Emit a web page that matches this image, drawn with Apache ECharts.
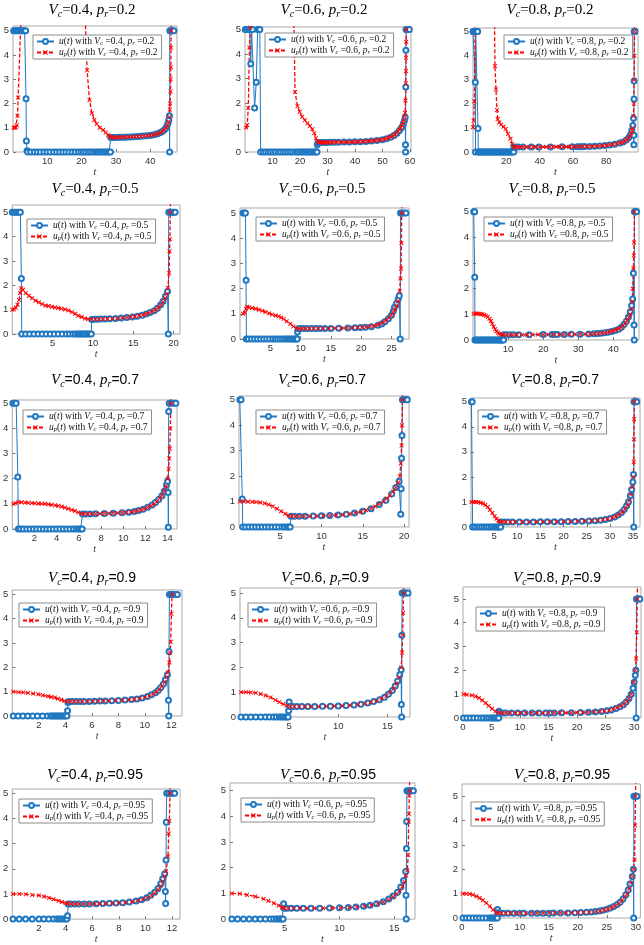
<!DOCTYPE html>
<html>
<head>
<meta charset="utf-8">
<script src="https://cdn.jsdelivr.net/npm/echarts@6.0.0/dist/echarts.min.js"></script>
</head>
<body style="margin:0;background:#fff">
<div id="container" style="width:644px;height:945px"></div>
<script>
// ---- data: [t, value] ----
// Vc=0.4, pr=0.2
var u_04_02 = [[0.2,5],[0.6,5],[1.0,5],[1.4,5],[1.8,5],[2.2,5],[2.6,5],[3.0,5],[3.4,5],[3.7,5],[3.8,2.2],[3.9,0.45],[4.1,0.05],[4.3,0],[5.2,0],[6.2,0],[7.1,0],[8.0,0],[9.0,0],[9.9,0],[10.8,0],[11.8,0],[12.7,0],[13.6,0],[14.5,0],[15.4,0],[16.3,0],[17.2,0],[18.1,0],[19.0,0],[19.8,0],[20.5,0],[21.2,0],[21.9,0],[22.6,0],[23.3,0],[24.0,0],[24.6,0],[25.2,0],[25.8,0],[26.4,0],[27.0,0],[27.5,0],[28.0,0],[28.4,0],[28.5,0.6],[29.0,0.6],[29.6,0.6],[30.3,0.6],[31.0,0.61],[31.8,0.61],[32.6,0.61],[33.5,0.62],[34.4,0.62],[35.3,0.63],[36.2,0.64],[37.1,0.65],[38.0,0.66],[38.9,0.67],[39.8,0.68],[40.6,0.7],[41.4,0.72],[42.1,0.75],[42.8,0.79],[43.4,0.84],[44.0,0.9],[44.5,0.98],[44.9,1.08],[45.2,1.2],[45.4,1.32],[45.6,1.5],[45.65,0],[45.7,5],[46.0,5],[46.3,5],[46.6,5],[46.9,5]];
var up_04_02 = [[0.2,1.0],[0.5,1.0],[0.8,1.02],[1.1,1.1],[1.3,1.5],[1.5,2.25],[2.3,5.4],[2.5,8],[20.4,8],[21.6,3.37],[22.3,2.14],[23.0,1.6],[23.7,1.32],[24.4,1.16],[25.3,1.0],[26.3,0.91],[27.0,0.8],[27.7,0.7],[28.2,0.64],[28.6,0.61],[29.2,0.6],[29.8,0.6],[30.5,0.6],[31.2,0.61],[32.0,0.61],[32.8,0.62],[33.7,0.62],[34.6,0.63],[35.5,0.63],[36.4,0.64],[37.3,0.65],[38.2,0.66],[39.1,0.67],[40.0,0.69],[40.8,0.7],[41.6,0.73],[42.3,0.76],[43.0,0.8],[43.6,0.86],[44.1,0.92],[44.6,1.0],[45.0,1.1],[45.3,1.25],[45.5,1.45],[45.7,1.75],[45.8,2.0],[45.9,2.5],[45.95,3.0],[46.0,3.5],[46.05,4.3],[46.1,5.0],[46.15,8]];
// Vc=0.6, pr=0.2
var u_06_02 = [[0.1,5],[0.5,5],[0.9,5],[1.3,5],[1.7,5],[2.1,3.6],[2.4,5],[2.7,5],[3.5,1.8],[4.1,2.85],[4.6,5],[5.0,5],[5.4,5],[5.7,0],[6.6,0],[7.5,0],[8.4,0],[9.3,0],[10.2,0],[11.1,0],[12.0,0],[12.9,0],[13.8,0],[14.7,0],[15.6,0],[16.5,0],[17.4,0],[18.3,0],[19.1,0],[19.9,0],[20.6,0],[21.3,0],[22.0,0],[22.7,0],[23.4,0],[24.0,0],[24.6,0],[25.2,0],[25.7,0],[26.2,0],[26.3,0.3],[26.6,0.38],[27.2,0.39],[28,0.39],[29,0.39],[30,0.39],[31.2,0.4],[32.5,0.4],[34,0.4],[36,0.41],[38,0.41],[40,0.42],[42,0.42],[44,0.43],[46,0.45],[48,0.47],[50,0.5],[51.5,0.54],[53,0.6],[54.2,0.67],[55.3,0.76],[56.2,0.88],[57,1.0],[57.6,1.15],[58.0,1.28],[58.3,1.42],[58.4,0.3],[58.45,0],[58.5,2.65],[58.55,4.15],[58.6,5],[58.9,5],[59.2,5],[59.5,5],[59.8,5]];
var up_06_02 = [[0.4,1.0],[0.8,1.1],[1.2,1.8],[1.6,4.26],[1.9,5.07],[2.1,8],[17.4,8],[18.2,2.45],[19.1,1.87],[19.9,1.64],[20.8,1.44],[21.8,1.3],[22.7,1.17],[23.6,1.06],[24.5,0.93],[25.2,0.77],[25.8,0.56],[26.4,0.43],[26.9,0.4],[27.4,0.39],[27.9,0.39],[28.4,0.39],[29,0.39],[29.6,0.39],[30.3,0.39],[31,0.39],[31.8,0.4],[32.6,0.4],[33.5,0.4],[34.5,0.4],[35.5,0.4],[36.5,0.41],[37.5,0.41],[38.5,0.41],[39.5,0.42],[40.5,0.42],[41.5,0.42],[42.5,0.43],[43.5,0.43],[44.5,0.44],[45.5,0.45],[46.5,0.46],[47.5,0.47],[48.5,0.48],[49.5,0.5],[50.5,0.52],[51.5,0.55],[52.3,0.58],[53.1,0.62],[53.8,0.66],[54.5,0.71],[55.1,0.77],[55.7,0.84],[56.2,0.92],[56.7,1.0],[57.1,1.08],[57.5,1.18],[57.8,1.3],[58.05,1.45],[58.25,1.6],[58.4,2.1],[58.5,2.8],[58.55,3.3],[58.6,3.85],[58.65,4.5],[58.7,5.0],[58.8,8]];
// Vc=0.8, pr=0.2
var u_08_02 = [[0,5],[0.3,5],[0.6,5],[0.9,5],[1.2,5],[1.4,2.9],[1.5,0],[1.6,5],[1.9,5],[2.2,5],[2.5,5],[2.8,5],[3.0,0.98],[3.2,0],[3.7,0],[4.3,0],[5,0],[5.7,0],[6.4,0],[7.1,0],[7.8,0],[8.5,0],[9.2,0],[9.9,0],[10.6,0],[11.3,0],[12,0],[12.7,0],[13.4,0],[14.1,0],[14.8,0],[15.5,0],[16.2,0],[16.9,0],[17.6,0],[18.3,0],[19,0],[19.7,0],[20.4,0],[21.1,0],[21.8,0],[22.5,0],[23.2,0],[23.9,0],[24.4,0],[24.5,0.2],[25.5,0.21],[27,0.21],[30,0.21],[35,0.21],[39.5,0.21],[46.5,0.21],[53.5,0.22],[59.5,0.22],[62.5,0.22],[64,0.22],[65.5,0.22],[67,0.23],[70,0.23],[73,0.24],[76,0.25],[79,0.27],[82,0.29],[85,0.32],[88,0.37],[90,0.42],[92,0.5],[93.5,0.6],[94.5,0.72],[95.3,0.9],[95.9,1.1],[96.3,1.4],[96.5,0.3],[96.55,0.7],[96.6,2.2],[96.65,2.95],[96.7,5],[96.9,5],[97.1,5]];
var up_08_02 = [[0,1.03],[0.4,1.3],[0.8,2.1],[1.3,5.3],[1.5,8],[12.5,8],[13.2,3.56],[13.8,2.6],[14.4,1.74],[14.8,1.37],[15.8,1.23],[16.9,1.14],[18.3,1.05],[19.6,0.96],[21.0,0.75],[22.5,0.55],[23.5,0.34],[24.5,0.2],[25.5,0.21],[27,0.21],[28.5,0.21],[30,0.21],[32,0.21],[34,0.21],[36,0.21],[38,0.21],[40,0.21],[42,0.21],[44,0.21],[46,0.21],[48,0.22],[50,0.22],[52,0.22],[54,0.22],[56,0.22],[58,0.22],[60,0.22],[62,0.22],[64,0.23],[66,0.23],[68,0.23],[70,0.23],[72,0.24],[74,0.24],[76,0.25],[78,0.26],[80,0.28],[82,0.29],[84,0.31],[86,0.34],[88,0.37],[89.5,0.4],[91,0.45],[92.3,0.51],[93.3,0.58],[94.2,0.67],[94.9,0.78],[95.4,0.9],[95.8,1.0],[96.2,1.5],[96.5,2.0],[96.7,3.0],[96.8,4.0],[96.9,5],[97,8]];
// Vc=0.4, pr=0.5
var u_04_05 = [[0,5],[0.25,5],[0.5,5],[0.75,5],[1.0,5],[1.13,2.28],[1.17,0],[1.66,0],[2.15,0],[2.68,0],[3.2,0],[3.7,0],[4.2,0],[4.7,0],[5.2,0],[5.7,0],[6.2,0],[6.7,0],[7.1,0],[7.5,0],[7.8,0],[8.1,0],[8.3,0],[8.5,0],[8.7,0],[8.9,0],[9.1,0],[9.35,0],[9.56,0],[9.8,0],[9.85,0.6],[10.2,0.61],[10.6,0.61],[11.0,0.62],[11.5,0.62],[12.1,0.63],[12.8,0.64],[13.5,0.66],[14.2,0.68],[14.9,0.7],[15.5,0.73],[16.1,0.77],[16.6,0.82],[17.1,0.88],[17.6,0.96],[18.0,1.06],[18.4,1.2],[18.7,1.35],[19.0,1.55],[19.25,1.75],[19.35,0],[19.4,5],[19.6,5],[19.8,5],[20.0,5],[20.2,5]];
var up_04_05 = [[0,1.0],[0.2,1.02],[0.45,1.09],[0.65,1.2],[0.85,1.4],[0.97,1.68],[1.1,1.88],[1.33,1.82],[1.66,1.68],[2.06,1.57],[2.47,1.47],[2.88,1.37],[3.3,1.3],[3.7,1.23],[4.1,1.17],[4.5,1.15],[4.9,1.12],[5.3,1.09],[5.7,1.07],[6.1,1.04],[6.55,1.01],[6.96,0.97],[7.4,0.9],[7.8,0.83],[8.2,0.75],[8.6,0.7],[9.0,0.64],[9.4,0.61],[9.8,0.61],[10.3,0.61],[10.8,0.61],[11.3,0.62],[11.8,0.62],[12.4,0.63],[13.0,0.64],[13.6,0.66],[14.2,0.68],[14.7,0.7],[15.2,0.72],[15.7,0.75],[16.2,0.78],[16.6,0.82],[17.0,0.87],[17.4,0.93],[17.8,1.0],[18.1,1.08],[18.4,1.18],[18.7,1.32],[18.95,1.48],[19.15,1.65],[19.3,1.9],[19.45,2.5],[19.5,3.4],[19.55,3.9],[19.6,5.0],[19.65,8]];
// Vc=0.6, pr=0.5
var u_06_05 = [[0.5,5],[0.7,5],[0.9,5],[1.0,2.33],[1.05,0],[1.4,0],[1.9,0],[2.4,0],[2.9,0],[3.4,0],[3.9,0],[4.4,0],[4.9,0],[5.4,0],[5.8,0],[6.2,0],[6.6,0],[7.0,0],[7.4,0],[7.7,0],[8.0,0],[8.3,0],[8.6,0],[8.9,0],[9.1,0],[9.3,0],[9.45,0],[9.5,0.28],[9.6,0.41],[10.0,0.42],[10.5,0.42],[11.1,0.42],[11.8,0.42],[12.5,0.42],[13.2,0.42],[14.0,0.42],[15.0,0.42],[16.3,0.43],[17.8,0.44],[19.0,0.45],[19.9,0.46],[20.7,0.47],[21.7,0.49],[22.8,0.55],[23.4,0.6],[23.9,0.68],[24.5,0.8],[25.0,0.94],[25.3,1.1],[25.5,1.26],[25.8,1.4],[26.1,1.58],[26.3,1.72],[26.45,0],[26.5,5],[26.8,5],[27.1,5],[27.4,5]];
var up_06_05 = [[0.5,1.0],[0.8,1.04],[1.0,1.2],[1.2,1.28],[1.5,1.25],[2.0,1.23],[2.6,1.2],[3.1,1.16],[3.7,1.12],[4.2,1.07],[4.8,1.02],[5.3,0.97],[5.9,0.93],[6.4,0.9],[6.8,0.85],[7.2,0.8],[7.7,0.7],[8.3,0.61],[8.8,0.5],[9.4,0.42],[9.8,0.4],[10.3,0.41],[10.9,0.41],[11.5,0.41],[12.2,0.42],[13,0.42],[13.8,0.42],[14.7,0.42],[15.7,0.43],[16.7,0.43],[17.7,0.44],[18.6,0.45],[19.4,0.46],[20.1,0.47],[20.8,0.48],[21.5,0.5],[22.1,0.53],[22.7,0.56],[23.2,0.61],[23.7,0.67],[24.2,0.75],[24.6,0.84],[25.0,0.94],[25.3,1.05],[25.6,1.18],[25.9,1.32],[26.1,1.5],[26.35,1.9],[26.5,2.4],[26.6,2.8],[26.65,3.8],[26.7,5.0],[26.8,8]];
// Vc=0.8, pr=0.5
var u_08_05 = [[0.2,5],[0.35,5],[0.45,5],[0.5,2.45],[0.55,0],[0.9,0],[1.3,0],[1.7,0],[2.1,0],[2.5,0],[2.9,0],[3.3,0],[3.7,0],[4.1,0],[4.5,0],[4.9,0],[5.3,0],[5.7,0],[6.1,0],[6.5,0],[6.9,0],[7.3,0],[7.6,0],[7.9,0],[8.2,0],[8.5,0],[8.7,0],[8.8,0.2],[9.5,0.2],[10.5,0.2],[11.5,0.2],[13,0.2],[16,0.2],[20,0.21],[22.5,0.21],[23.2,0.21],[24,0.21],[26,0.21],[28,0.22],[30.5,0.22],[33,0.23],[34.5,0.24],[35.5,0.25],[36.5,0.26],[37.5,0.28],[38.5,0.3],[39.5,0.33],[40.5,0.37],[41.5,0.42],[42.3,0.5],[43.0,0.6],[43.7,0.73],[44.3,0.9],[44.8,1.1],[45.2,1.35],[45.5,1.6],[45.7,2.6],[45.9,0.59],[45.95,0],[46.0,5],[46.2,5],[46.4,5],[46.6,5]];
var up_08_05 = [[0.2,1.02],[0.7,1.03],[1.2,1.03],[1.7,1.02],[2.2,1.01],[2.7,1.0],[3.2,0.98],[3.7,0.95],[4.2,0.9],[4.7,0.83],[5.1,0.74],[5.5,0.63],[5.9,0.52],[6.3,0.42],[6.7,0.34],[7.1,0.28],[7.5,0.24],[8.0,0.21],[8.5,0.2],[9.5,0.2],[10.5,0.2],[11.5,0.2],[12.5,0.2],[14,0.2],[15.5,0.2],[17,0.21],[18.5,0.21],[20,0.21],[21.5,0.21],[23,0.21],[24.5,0.21],[26,0.21],[27.5,0.22],[29,0.22],[30.5,0.22],[32,0.23],[33.3,0.23],[34.5,0.24],[35.6,0.25],[36.6,0.26],[37.5,0.28],[38.4,0.3],[39.2,0.33],[40,0.36],[40.8,0.4],[41.5,0.44],[42.2,0.5],[42.8,0.57],[43.4,0.66],[43.9,0.76],[44.4,0.88],[44.8,1.0],[45.1,1.2],[45.35,1.5],[45.55,2.0],[45.7,2.8],[45.8,3.3],[45.9,3.8],[46.0,5.0],[46.05,8]];
// Vc=0.4, pr=0.7
var u_04_07 = [[0.05,5],[0.2,5],[0.35,5],[0.5,2.07],[0.55,0],[0.75,0],[1.0,0],[1.3,0],[1.6,0],[1.9,0],[2.2,0],[2.5,0],[2.8,0],[3.1,0],[3.4,0],[3.7,0],[4.0,0],[4.3,0],[4.6,0],[4.9,0],[5.2,0],[5.5,0],[5.75,0],[5.95,0],[6.15,0],[6.3,0],[6.35,0.6],[6.6,0.6],[7.0,0.6],[7.5,0.61],[8.3,0.62],[9.1,0.63],[9.9,0.65],[10.5,0.67],[11.0,0.7],[11.4,0.74],[11.8,0.79],[12.2,0.86],[12.6,0.95],[12.9,1.05],[13.2,1.17],[13.5,1.32],[13.7,1.5],[13.9,1.75],[14.0,1.9],[14.05,1.45],[14.07,0.07],[14.1,4.67],[14.15,5],[14.35,5],[14.55,5],[14.75,5]];
var up_04_07 = [[0.1,1.0],[0.3,1.03],[0.55,1.07],[0.85,1.06],[1.15,1.05],[1.45,1.04],[1.75,1.03],[2.05,1.02],[2.35,1.01],[2.65,1.0],[2.95,1.0],[3.25,0.98],[3.55,0.96],[3.85,0.94],[4.15,0.92],[4.45,0.89],[4.75,0.85],[5.05,0.81],[5.35,0.76],[5.65,0.72],[5.95,0.66],[6.25,0.61],[6.5,0.6],[6.8,0.6],[7.1,0.6],[7.5,0.61],[7.9,0.61],[8.3,0.62],[8.7,0.62],[9.1,0.63],[9.5,0.64],[9.9,0.65],[10.3,0.66],[10.7,0.68],[11.0,0.7],[11.3,0.73],[11.6,0.76],[11.9,0.8],[12.2,0.86],[12.5,0.92],[12.8,1.0],[13.05,1.1],[13.3,1.22],[13.5,1.35],[13.7,1.52],[13.85,1.7],[14.0,2.0],[14.1,2.4],[14.15,2.8],[14.2,3.2],[14.25,4.0],[14.3,5.0],[14.35,8]];
// Vc=0.6, pr=0.7
var u_06_07 = [[0.1,5],[0.25,5],[0.4,1.1],[0.45,0],[0.8,0],[1.2,0],[1.6,0],[2.0,0],[2.4,0],[2.8,0],[3.2,0],[3.6,0],[4.0,0],[4.4,0],[4.8,0],[5.2,0],[5.5,0],[5.8,0],[6.0,0],[6.2,0],[6.3,0.42],[6.7,0.42],[7.3,0.42],[8.0,0.42],[9.0,0.43],[10,0.44],[11,0.45],[12,0.47],[13,0.5],[14,0.55],[15,0.62],[16,0.72],[17,0.88],[17.8,1.05],[18.5,1.3],[19.0,1.55],[19.4,1.8],[19.6,0.5],[19.65,1.5],[19.7,2.7],[19.75,3.6],[19.8,5],[20.0,5],[20.2,5],[20.4,5]];
var up_06_07 = [[0.1,1.0],[0.6,1.0],[1.1,1.0],[1.6,0.99],[2.1,0.98],[2.6,0.96],[3.1,0.93],[3.6,0.88],[4.1,0.81],[4.6,0.72],[5.1,0.62],[5.6,0.52],[6.0,0.45],[6.4,0.42],[6.8,0.42],[7.3,0.42],[7.9,0.42],[8.6,0.42],[9.4,0.43],[10.2,0.44],[11,0.45],[11.8,0.46],[12.6,0.48],[13.4,0.51],[14.1,0.55],[14.8,0.6],[15.4,0.66],[16,0.73],[16.5,0.81],[17,0.9],[17.5,1.0],[17.9,1.12],[18.3,1.25],[18.7,1.4],[19.0,1.55],[19.3,1.75],[19.5,2.0],[19.6,2.5],[19.7,3.2],[19.75,4.0],[19.8,5],[19.85,8]];
// Vc=0.8, pr=0.7
var u_08_07 = [[0.1,5],[0.25,5],[0.35,0],[0.8,0],[1.3,0],[1.8,0],[2.3,0],[2.8,0],[3.3,0],[3.8,0],[4.3,0],[4.7,0],[5.1,0],[5.4,0],[5.7,0],[6.0,0],[6.2,0],[6.4,0],[6.5,0.2],[7.2,0.2],[8,0.2],[9,0.2],[10.5,0.2],[12,0.2],[13.5,0.2],[15,0.21],[16.5,0.21],[18,0.21],[19.5,0.21],[21,0.22],[22.5,0.22],[24,0.23],[25.5,0.24],[26.8,0.25],[28,0.27],[29,0.3],[30,0.34],[31,0.4],[31.8,0.48],[32.5,0.58],[33.1,0.7],[33.6,0.85],[34.0,1.0],[34.4,1.25],[34.7,1.5],[34.95,1.8],[35.1,2.1],[35.15,0],[35.2,5],[35.4,5],[35.6,5],[35.8,5]];
var up_08_07 = [[0.1,1.0],[0.6,1.0],[1.1,1.0],[1.6,0.99],[2.1,0.97],[2.6,0.94],[3.1,0.88],[3.6,0.8],[4.1,0.69],[4.6,0.56],[5.1,0.43],[5.5,0.33],[5.9,0.26],[6.3,0.21],[6.8,0.2],[7.5,0.2],[8.5,0.2],[9.5,0.2],[11,0.2],[12.5,0.2],[14,0.2],[15.5,0.21],[17,0.21],[18.5,0.21],[20,0.22],[21.5,0.22],[23,0.23],[24.5,0.24],[26,0.25],[27.3,0.26],[28.5,0.29],[29.5,0.32],[30.5,0.37],[31.3,0.43],[32,0.5],[32.7,0.6],[33.3,0.72],[33.8,0.87],[34.2,1.05],[34.55,1.3],[34.85,1.6],[35.05,2.0],[35.15,2.6],[35.2,3.5],[35.25,4.3],[35.3,5.0],[35.35,8]];
// Vc=0.4, pr=0.9
var u_04_09 = [[0.07,0],[0.44,0],[0.8,0],[1.17,0],[1.54,0],[1.9,0],[2.28,0],[2.65,0],[2.9,0],[3.0,0],[3.15,0],[3.27,0],[3.4,0],[3.5,0],[3.63,0],[3.75,0],[3.88,0],[4.0,0],[4.12,0],[4.17,0.22],[4.2,0.55],[4.25,0.6],[4.5,0.6],[4.8,0.6],[5.1,0.6],[5.4,0.6],[5.8,0.6],[6.2,0.61],[6.6,0.62],[7.0,0.62],[7.5,0.63],[8.0,0.64],[8.5,0.66],[9.0,0.68],[9.4,0.7],[9.8,0.74],[10.2,0.8],[10.5,0.87],[10.8,0.96],[11.0,1.05],[11.2,1.17],[11.4,1.32],[11.55,1.5],[11.7,1.7],[11.78,0.65],[11.8,0],[11.82,2.65],[11.85,5],[12.0,5],[12.15,5],[12.3,5],[12.45,5]];
var up_04_09 = [[0.07,1.0],[0.47,0.98],[0.84,0.97],[1.2,0.95],[1.58,0.92],[1.95,0.89],[2.3,0.85],[2.7,0.81],[2.94,0.78],[3.2,0.76],[3.43,0.71],[3.7,0.67],[3.93,0.62],[4.17,0.6],[4.4,0.6],[4.7,0.6],[5.0,0.6],[5.3,0.6],[5.7,0.6],[6.1,0.61],[6.5,0.61],[6.9,0.62],[7.3,0.63],[7.8,0.64],[8.3,0.65],[8.8,0.67],[9.2,0.69],[9.6,0.72],[10.0,0.77],[10.35,0.83],[10.65,0.91],[10.9,1.0],[11.1,1.1],[11.3,1.24],[11.5,1.4],[11.65,1.6],[11.75,1.8],[11.85,2.2],[11.9,2.6],[11.95,3.05],[12.0,4.2],[12.05,5.0],[12.08,5.3]];
// Vc=0.6, pr=0.9
var u_06_09 = [[0.1,0],[0.6,0],[1.1,0],[1.6,0],[2.1,0],[2.6,0],[3.0,0],[3.4,0],[3.7,0],[4.0,0],[4.2,0],[4.4,0],[4.6,0],[4.8,0],[4.9,0],[4.95,0.25],[5.0,0.6],[5.05,0.42],[5.4,0.42],[5.8,0.42],[6.3,0.42],[6.9,0.42],[7.6,0.42],[8.4,0.43],[9.2,0.43],[10,0.44],[10.8,0.46],[11.6,0.48],[12.3,0.51],[13,0.56],[13.6,0.62],[14.2,0.7],[14.7,0.8],[15.1,0.92],[15.5,1.07],[15.8,1.25],[16.05,1.45],[16.25,1.7],[16.4,1.9],[16.42,0.5],[16.45,0],[16.47,3.3],[16.5,5],[16.65,5],[16.8,5],[16.95,5],[17.1,5]];
var up_06_09 = [[0.1,1.0],[0.6,1.0],[1.1,0.99],[1.6,0.97],[2.1,0.93],[2.6,0.87],[3.1,0.79],[3.6,0.69],[4.0,0.6],[4.4,0.52],[4.75,0.46],[5.05,0.42],[5.5,0.42],[6,0.42],[6.6,0.42],[7.2,0.42],[8,0.42],[8.8,0.43],[9.6,0.44],[10.4,0.45],[11.2,0.47],[12,0.5],[12.7,0.54],[13.3,0.59],[13.9,0.66],[14.4,0.75],[14.9,0.86],[15.3,1.0],[15.65,1.15],[15.95,1.35],[16.2,1.6],[16.4,2.0],[16.5,2.6],[16.55,3.3],[16.6,4.2],[16.65,5.0],[16.7,8]];
// Vc=0.8, pr=0.9
var u_08_09 = [[0.1,0],[0.7,0],[1.3,0],[1.9,0],[2.5,0],[3.1,0],[3.6,0],[4.1,0],[4.5,0],[4.9,0],[5.2,0],[5.5,0],[5.8,0],[6.1,0],[6.25,0],[6.3,0.28],[6.4,0.22],[7,0.21],[7.5,0.21],[8.5,0.21],[9.6,0.21],[10.8,0.21],[12.1,0.21],[13.3,0.21],[14.5,0.21],[15.2,0.21],[16.0,0.21],[17.3,0.22],[19.0,0.22],[20.6,0.23],[22.0,0.24],[23.2,0.25],[24.3,0.27],[25.2,0.3],[26.0,0.34],[26.8,0.4],[27.5,0.47],[28.1,0.56],[28.6,0.67],[29.1,0.82],[29.5,1.0],[29.8,1.25],[30.0,1.5],[30.2,1.8],[30.3,2.0],[30.35,0],[30.4,5],[30.6,5],[30.8,5],[31.0,5]];
var up_08_09 = [[0.1,1.0],[0.7,0.98],[1.6,0.95],[2.2,0.91],[2.8,0.84],[3.36,0.74],[3.95,0.63],[4.5,0.51],[5.1,0.39],[5.7,0.28],[6.3,0.22],[6.8,0.21],[7.5,0.21],[8.3,0.21],[9.2,0.21],[10,0.21],[11,0.21],[12,0.21],[13,0.21],[14,0.21],[15,0.21],[16,0.22],[17,0.22],[18,0.22],[19,0.22],[20,0.23],[21,0.23],[22,0.24],[23,0.25],[24,0.27],[24.8,0.29],[25.6,0.32],[26.3,0.37],[27,0.43],[27.6,0.5],[28.2,0.58],[28.7,0.69],[29.1,0.82],[29.5,1.0],[29.9,1.5],[30.2,2.0],[30.35,2.5],[30.45,3.6],[30.55,5],[30.6,8]];
// Vc=0.4, pr=0.95
var u_04_095 = [[0.05,0],[0.52,0],[1.0,0],[1.5,0],[2.0,0],[2.37,0],[2.74,0],[3.1,0],[3.36,0],[3.53,0],[3.68,0],[3.85,0],[3.98,0],[4.1,0],[4.15,0.13],[4.2,0.6],[4.4,0.6],[4.7,0.6],[5.0,0.6],[5.4,0.6],[5.8,0.6],[6.3,0.61],[6.8,0.62],[7.3,0.63],[7.8,0.64],[8.3,0.65],[8.8,0.68],[9.3,0.72],[9.7,0.77],[10.1,0.85],[10.4,0.95],[10.7,1.07],[10.95,1.22],[11.15,1.4],[11.3,1.6],[11.45,1.8],[11.5,1.1],[11.52,0.62],[11.55,2.35],[11.57,3.85],[11.6,5],[11.75,5],[11.9,5],[12.05,5],[12.2,5]];
var up_04_095 = [[0.05,1.0],[0.52,1.0],[1.0,0.99],[1.5,0.96],[2.0,0.94],[2.37,0.9],[2.74,0.85],[3.1,0.79],[3.48,0.73],[3.73,0.68],[4.0,0.64],[4.17,0.62],[4.4,0.6],[4.7,0.6],[5.0,0.6],[5.4,0.6],[5.8,0.6],[6.2,0.61],[6.6,0.61],[7.0,0.62],[7.5,0.63],[8.0,0.64],[8.5,0.66],[9.0,0.69],[9.4,0.73],[9.8,0.78],[10.15,0.85],[10.45,0.94],[10.7,1.04],[10.95,1.17],[11.15,1.32],[11.3,1.5],[11.45,1.7],[11.55,1.9],[11.7,2.5],[11.75,3.4],[11.8,3.9],[11.85,5.0],[11.9,8]];
// Vc=0.6, pr=0.95
var u_06_095 = [[0.17,0],[0.69,0],[1.24,0],[1.76,0],[2.3,0],[2.77,0],[3.23,0],[3.69,0],[3.99,0],[4.24,0],[4.45,0],[4.6,0],[4.76,0],[4.85,0],[4.9,0.6],[4.95,0.42],[5.2,0.42],[5.6,0.42],[6.1,0.42],[6.7,0.42],[7.4,0.42],[8.2,0.42],[9.1,0.43],[10,0.44],[10.8,0.45],[11.5,0.47],[12.2,0.5],[12.8,0.54],[13.4,0.6],[14.0,0.68],[14.5,0.78],[14.9,0.9],[15.3,1.05],[15.6,1.25],[15.85,1.5],[16.05,1.85],[16.08,0.93],[16.1,0],[16.12,2.75],[16.14,3.8],[16.16,5],[16.3,5],[16.45,5],[16.6,5],[16.75,5]];
var up_06_095 = [[0.17,1.0],[0.9,0.99],[1.55,0.94],[2.3,0.88],[3.07,0.79],[3.5,0.71],[4.0,0.62],[4.45,0.53],[4.75,0.45],[4.97,0.42],[5.3,0.42],[5.8,0.42],[6.4,0.42],[7.0,0.42],[7.7,0.42],[8.5,0.42],[9.3,0.43],[10.1,0.44],[10.9,0.45],[11.6,0.47],[12.3,0.5],[12.9,0.54],[13.5,0.6],[14.0,0.67],[14.5,0.76],[14.9,0.87],[15.2,0.98],[15.5,1.1],[15.75,1.27],[15.95,1.45],[16.1,1.7],[16.2,1.9],[16.28,2.5],[16.32,3.8],[16.35,4.1],[16.38,4.8],[16.4,5.0],[16.45,8]];
// Vc=0.8, pr=0.95
var u_08_095 = [[0.17,0],[0.75,0],[1.3,0],[1.9,0],[2.5,0],[3.05,0],[3.6,0],[4.2,0],[4.8,0],[5.1,0],[5.35,0],[5.6,0],[5.9,0],[6.1,0],[6.15,0.35],[6.2,0.22],[6.6,0.2],[7.2,0.2],[8,0.2],[9,0.2],[10,0.2],[10.7,0.2],[12,0.2],[13,0.2],[14,0.2],[15,0.2],[15.8,0.21],[17,0.21],[18.3,0.21],[19.5,0.22],[20.5,0.23],[21.5,0.24],[22.3,0.25],[23.0,0.27],[23.7,0.29],[24.3,0.32],[25.0,0.36],[25.6,0.41],[26.2,0.47],[26.8,0.55],[27.3,0.65],[27.8,0.78],[28.3,0.95],[28.7,1.15],[29.0,1.4],[29.4,1.7],[29.6,2.0],[29.65,0],[29.68,5],[29.85,5],[30.0,5],[30.2,5]];
var up_08_095 = [[0.1,1.0],[0.75,1.0],[1.3,0.99],[1.9,0.95],[2.5,0.89],[3.05,0.82],[3.6,0.73],[4.2,0.62],[4.8,0.48],[5.35,0.34],[5.9,0.23],[6.3,0.2],[6.8,0.2],[7.5,0.2],[8.3,0.2],[9.2,0.2],[10,0.2],[11,0.2],[12,0.2],[13,0.2],[14,0.2],[15,0.21],[16,0.21],[17,0.21],[18,0.21],[19,0.22],[20,0.22],[21,0.23],[22,0.24],[23,0.26],[23.8,0.28],[24.5,0.32],[25.2,0.37],[25.9,0.43],[26.5,0.5],[27.1,0.6],[27.6,0.72],[28.1,0.87],[28.5,1.0],[28.9,1.2],[29.2,1.45],[29.45,1.7],[29.65,2.0],[29.8,2.4],[29.9,3.8],[29.97,5],[30.02,8]];

// panels in reading order; axis ranges read from the frames
var panels = [
  {vc: '0.4', pr: '0.2',  u: u_04_02,  up: up_04_02,  xmax: 47.8, ymax: 5.2,  xstep: 10},
  {vc: '0.6', pr: '0.2',  u: u_06_02,  up: up_06_02,  xmax: 60.4, ymax: 5.1,  xstep: 10},
  {vc: '0.8', pr: '0.2',  u: u_08_02,  up: up_08_02,  xmax: 99,   ymax: 5.15, xstep: 20},
  {vc: '0.4', pr: '0.5',  u: u_04_05,  up: up_04_05,  xmax: 20.8, ymax: 5.3,  xstep: 5},
  {vc: '0.6', pr: '0.5',  u: u_06_05,  up: up_06_05,  xmax: 27.9, ymax: 5.2,  xstep: 5},
  {vc: '0.8', pr: '0.5',  u: u_08_05,  up: up_08_05,  xmax: 47.3, ymax: 5.15, xstep: 10},
  {vc: '0.4', pr: '0.7',  u: u_04_07,  up: up_04_07,  xmax: 14.85,ymax: 5.13, xstep: 2},
  {vc: '0.6', pr: '0.7',  u: u_06_07,  up: up_06_07,  xmax: 20.6, ymax: 5.15, xstep: 5},
  {vc: '0.8', pr: '0.7',  u: u_08_07,  up: up_08_07,  xmax: 36.5, ymax: 5.15, xstep: 5},
  {vc: '0.4', pr: '0.9',  u: u_04_09,  up: up_04_09,  xmax: 12.8, ymax: 5.18, xstep: 2},
  {vc: '0.6', pr: '0.9',  u: u_06_09,  up: up_06_09,  xmax: 17.3, ymax: 5.2,  xstep: 5},
  {vc: '0.8', pr: '0.9',  u: u_08_09,  up: up_08_09,  xmax: 31.2, ymax: 5.5,  xstep: 5, zero: true},
  {vc: '0.4', pr: '0.95', u: u_04_095, up: up_04_095, xmax: 12.6, ymax: 5.17, xstep: 2},
  {vc: '0.6', pr: '0.95', u: u_06_095, up: up_06_095, xmax: 16.9, ymax: 5.3,  xstep: 5},
  {vc: '0.8', pr: '0.95', u: u_08_095, up: up_08_095, xmax: 30.8, ymax: 5.5,  xstep: 5, zero: true}
];

// plot boxes (l,t,w,h), title centre (tx,ty), legend corner (lx,ly), gap to "t"
var layout = [
  {l: 13,  t: 26,  w: 164, h: 126, tx: 92,  ty: 10,  lx: 33,  ly: 35,  ng: 11},
  {l: 245, t: 27,  w: 166, h: 125, tx: 324, ty: 10,  lx: 265, ly: 33,  ng: 11},
  {l: 473, t: 28,  w: 165, h: 124, tx: 550, ty: 10,  lx: 504, ly: 35,  ng: 11},
  {l: 9,   t: 205, w: 171, h: 129, tx: 95,  ty: 189, lx: 27,  ly: 219, ng: 11},
  {l: 240, t: 208, w: 169, h: 131, tx: 322, ty: 189, lx: 256, ly: 217, ng: 10},
  {l: 473, t: 208, w: 166, h: 132, tx: 552, ty: 189, lx: 484, ly: 217, ng: 10},
  {l: 7,   t: 400, w: 170, h: 129, tx: 95,  ty: 380, lx: 23,  ly: 410, ng: 10},
  {l: 239, t: 396, w: 170, h: 131, tx: 322, ty: 380, lx: 256, ly: 410, ng: 10},
  {l: 471, t: 398, w: 169, h: 129, tx: 555, ty: 380, lx: 478, ly: 410, ng: 10},
  {l: 9,   t: 590, w: 173, h: 126, tx: 92,  ty: 578, lx: 19,  ly: 603, ng: 11},
  {l: 240, t: 588, w: 170, h: 129, tx: 325, ty: 578, lx: 248, ly: 603, ng: 11},
  {l: 463, t: 587, w: 178, h: 131, tx: 557, ty: 578, lx: 476, ly: 607, ng: 10},
  {l: 9,   t: 789, w: 171, h: 134, tx: 95,  ty: 775, lx: 19,  ly: 799, ng: 14},
  {l: 230, t: 783, w: 185, h: 138, tx: 328, ty: 775, lx: 241, ly: 798, ng: 12},
  {l: 462, t: 784, w: 179, h: 134, tx: 562, ty: 775, lx: 471, ly: 802, ng: 14}
];

var SERIF = '"Liberation Serif", "DejaVu Serif", serif';
var SANS = '"Liberation Sans", "DejaVu Sans", sans-serif';
var X_SYM = 'path://M0,1.5L1.5,0L5,3.5L8.5,0L10,1.5L6.5,5L10,8.5L8.5,10L5,6.5L1.5,10L0,8.5L3.5,5Z';
var BLUE = '#1f78c1';

var chart = echarts.init(document.getElementById('container'));
var grids = [], xAxes = [], yAxes = [], series = [], legends = [], titles = [];
var legendText = {};

var legendRich = {
  i: {fontFamily: SERIF, fontStyle: 'italic', fontSize: 9.5, lineHeight: 11, color: '#111'},
  s: {fontFamily: SERIF, fontStyle: 'italic', fontSize: 6.5, lineHeight: 7, verticalAlign: 'bottom', color: '#111'}
};

panels.forEach(function (p, i) {
  var L = layout[i];
  var row = Math.floor(i / 3);
  var nameU = 'u(t) with Vc=' + p.vc + ', pr=' + p.pr;
  var nameUp = 'up(t) with Vc=' + p.vc + ', pr=' + p.pr;
  var tail = ' with {i|V}{s|c} =' + p.vc + ', {i|p}{s|r} =' + p.pr;
  legendText[nameU] = '{i|u}({i|t})' + tail;
  legendText[nameUp] = '{i|u}{s|p}({i|t})' + tail;

  grids.push({left: L.l, top: L.t, width: L.w, height: L.h, show: true,
    borderColor: '#a9a9a9', borderWidth: 1, backgroundColor: '#fff'});

  xAxes.push({gridIndex: i, type: 'value', min: 0, max: p.xmax, interval: p.xstep,
    name: 't', nameLocation: 'middle', nameGap: L.ng,
    nameTextStyle: {fontFamily: SERIF, fontStyle: 'italic', fontSize: 10, color: '#333'},
    axisLine: {show: false},
    axisTick: {inside: true, length: 3, lineStyle: {color: '#777'}},
    splitLine: {show: false},
    axisLabel: {fontSize: 9.5, color: '#333', margin: 4, fontFamily: SANS,
      showMinLabel: !!p.zero, showMaxLabel: false}});

  yAxes.push({gridIndex: i, type: 'value', min: 0, max: p.ymax, interval: 1,
    axisLine: {show: false},
    axisTick: {inside: true, length: 3, lineStyle: {color: '#777'}},
    splitLine: {show: false},
    axisLabel: {fontSize: 9.5, color: '#333', margin: 4, fontFamily: SANS, showMaxLabel: false}});

  series.push({type: 'line', name: nameU, xAxisIndex: i, yAxisIndex: i, data: p.u,
    symbol: 'emptyCircle', symbolSize: 5, showAllSymbol: true, silent: true,
    lineStyle: {color: BLUE, width: 1},
    itemStyle: {color: BLUE, borderWidth: 0.8}});
  series.push({type: 'line', name: nameUp, xAxisIndex: i, yAxisIndex: i, data: p.up,
    symbol: X_SYM, symbolSize: 4.5, showAllSymbol: true, silent: true,
    lineStyle: {color: '#ff0000', width: 1.3, type: [4, 2]},
    itemStyle: {color: '#ff0000'}});

  legends.push({left: L.lx, top: L.ly, orient: 'vertical', data: [nameU, nameUp],
    selectedMode: false, itemWidth: 17, itemHeight: 6, itemGap: 0,
    padding: [1, 4, 1, 3], borderColor: '#8c8c8c', borderWidth: 1, backgroundColor: '#fff',
    formatter: function (name) { return legendText[name]; },
    textStyle: {fontFamily: SERIF, fontSize: 9.5, lineHeight: 11, color: '#111', rich: legendRich}});

  var numFont = row < 2 ? SERIF : SANS;
  var numSize = row < 2 ? 15 : 14;
  titles.push({type: 'text', x: L.tx, y: L.ty, silent: true,
    style: {
      text: '{v|V}{s|c}{n|=' + p.vc + ', }{v|p}{s|r}{n|=' + p.pr + '}',
      align: 'center', verticalAlign: 'middle',
      textAlign: 'center', textVerticalAlign: 'middle',
      fill: '#000',
      rich: {
        v: {fontFamily: SERIF, fontStyle: 'italic', fontSize: 15, lineHeight: 18, fill: '#000'},
        s: {fontFamily: SERIF, fontStyle: 'italic', fontSize: 10, lineHeight: 10, verticalAlign: 'bottom', fill: '#000'},
        n: {fontFamily: numFont, fontSize: numSize, lineHeight: 18, fill: '#000'}
      }
    }});
});

chart.setOption({
  animation: false,
  backgroundColor: '#fff',
  grid: grids,
  xAxis: xAxes,
  yAxis: yAxes,
  legend: legends,
  series: series,
  graphic: {elements: titles}
});
</script>
</body>
</html>
